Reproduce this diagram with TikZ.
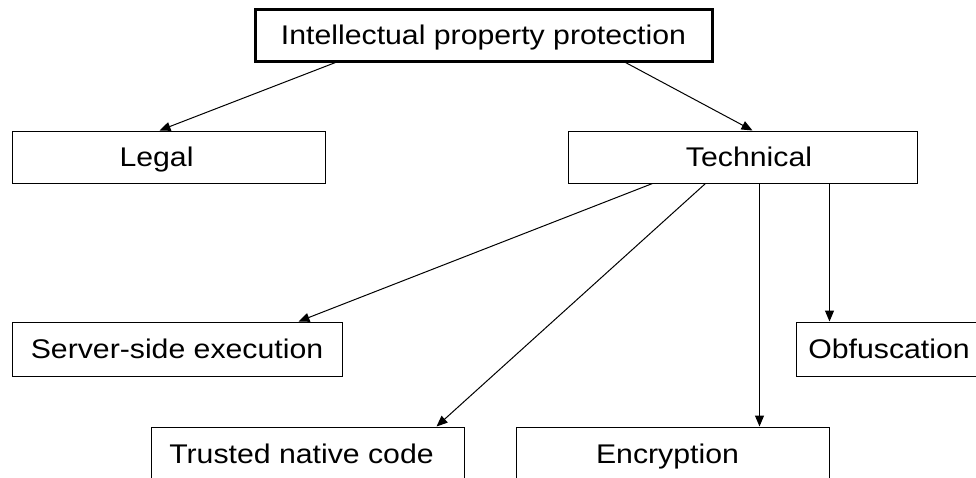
\documentclass[tikz,border=0pt]{standalone}
\usepackage{fontspec}
\setmainfont{Liberation Sans}
\usetikzlibrary{arrows.meta}
\newcommand{\wt}[1]{\scalebox{1.12}[1]{#1}}
\tikzset{
  box/.style={draw=black, line width=1pt, minimum height=52pt, inner sep=0pt,
    text height=19pt, text depth=0pt, font=\fontsize{27}{30}\selectfont, anchor=center},
  topbox/.style={box, line width=3pt},
  conn/.style={draw=black, line width=1pt, -{Triangle[length=11pt,width=9pt]}},
}
\begin{document}
\begin{tikzpicture}[x=1pt, y=-1pt]
\clip (0,0) rectangle (976,477);
\fill[white] (0,0) rectangle (976,477);
\node[topbox, minimum width=457pt] (ipp) at (483.5,35) {\wt{Intellectual property protection}};
\node[box, minimum width=313pt] (legal) at (168.5,157) {\wt{Legal}\hspace*{24pt}};
\node[box, minimum width=349pt] (tech) at (742.5,157) {\hspace*{13pt}\wt{Technical}};
\node[box, minimum width=330pt, minimum height=54pt] (server) at (177,349) {\wt{Server-side execution}};
\node[box, minimum width=186pt, minimum height=54pt] (obf) at (889,349) {\wt{Obfuscation}};
\node[box, minimum width=313pt, minimum height=54pt] (trusted) at (307.5,454) {\wt{Trusted native code}\hspace*{12pt}};
\node[box, minimum width=313pt, minimum height=54pt] (enc) at (672.5,454) {\wt{Encryption}\hspace*{10pt}};
\draw[conn] ([xshift=82pt]ipp.south west) -- ([xshift=148pt]legal.north west);
\draw[conn] ([xshift=372pt]ipp.south west) -- ([xshift=185pt]tech.north west);
\draw[conn] ([xshift=85pt]tech.south west) -- ([xshift=287pt]server.north west);
\draw[conn] ([xshift=138pt]tech.south west) -- ([xshift=286pt]trusted.north west);
\draw[conn] ([xshift=192pt]tech.south west) -- ([xshift=244pt]enc.north west);
\draw[conn] ([xshift=262pt]tech.south west) -- ([xshift=34pt]obf.north west);
\end{tikzpicture}
\end{document}
